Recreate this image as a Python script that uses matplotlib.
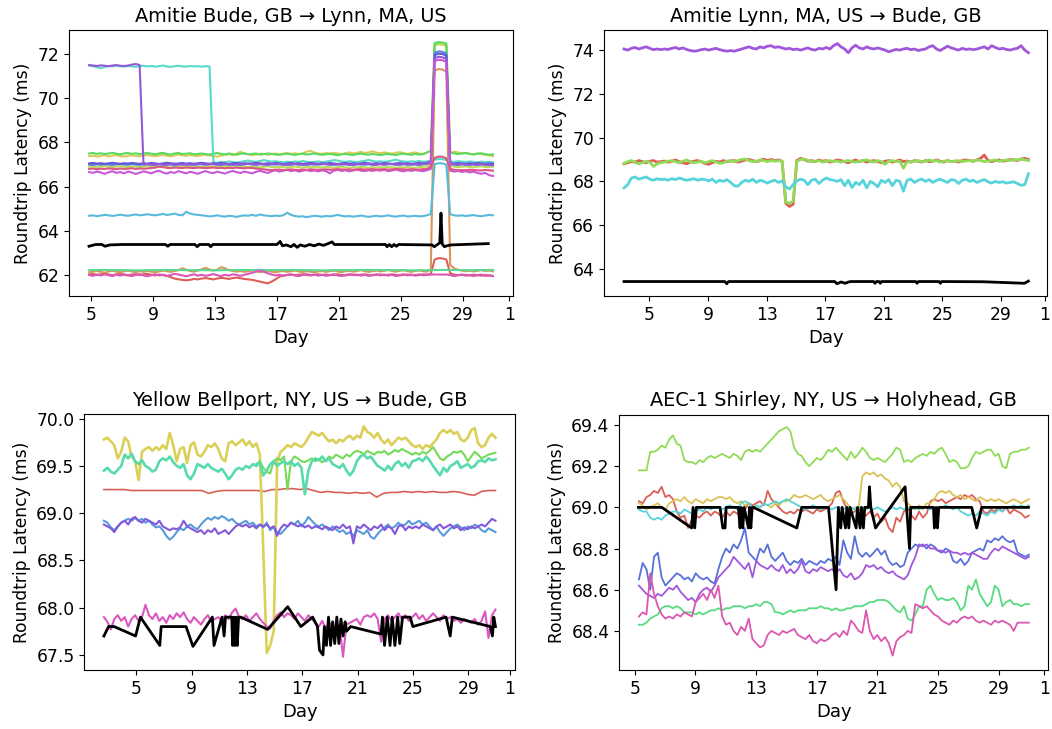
import numpy as np
import matplotlib
matplotlib.use("Agg")
import matplotlib.pyplot as plt
import seaborn as sns

plt.rcParams['font.family'] = ['DejaVu Sans']
plt.rcParams['font.size'] = 12

# ---------------- shared axis text ----------------
day_ticks = [5, 9, 13, 17, 21, 25, 29, 32]
day_labels = ["5", "9", "13", "17", "21", "25", "29", "1"]
x_label = "Day"
y_label = "Roundtrip Latency (ms)"

# ---------------- Panel 1: Amitie Bude -> Lynn ----------------
tl_title = "Amitie Bude, GB \u2192 Lynn, MA, US"
tl_start, tl_end = 4.88, 30.93
tl_series = {
    0: [62.02,62.05,62.00,62.03,62.06,62.02,61.99,62.03,62.05,62.01,61.98,62.02,62.04,62.00,62.03,
        62.05,62.01,61.98,62.02,62.00,61.96,61.90,61.84,61.80,61.78,61.76,61.78,61.82,61.80,61.84,
        61.86,61.83,61.80,61.84,61.87,61.85,61.82,61.86,61.88,61.85,61.82,61.80,61.78,61.74,61.70,
        61.66,61.62,61.70,61.80,61.92,61.98,62.00,62.02,61.99,62.01,62.03,62.00,61.98,62.01,62.03,
        62.00,62.02,61.99,62.01,62.03,62.00,61.98,62.01,62.02,61.99,62.01,62.03,62.00,61.98,62.01,
        62.02,61.99,62.01,62.03,62.00,61.98,62.01,62.02,61.99,62.00,62.02,61.99,62.00,62.05,
        62.70,62.76,62.75,62.70,
        62.08,62.02,61.99,62.01,62.00,61.98,62.01,61.99,61.97,62.00,61.98,61.96],
    1: [62.12,62.15,62.18,62.14,62.10,62.16,62.19,62.15,62.12,62.17,62.20,62.16,62.13,62.17,62.14,
        62.18,62.15,62.12,62.16,62.20,62.17,62.14,62.18,62.22,62.30,62.24,62.18,62.15,62.20,62.26,
        62.32,62.25,62.20,62.24,62.35,62.30,62.22,62.18,62.15,62.18,62.14,62.17,62.20,62.16,62.13,
        62.16,62.19,62.15,62.12,62.16,62.18,62.14,62.17,62.20,62.16,62.13,62.17,62.15,62.12,62.16,
        62.18,62.14,62.17,62.20,62.16,62.13,62.17,62.19,62.15,62.18,62.22,62.17,62.14,62.17,62.20,
        62.16,62.19,62.23,62.18,62.15,62.19,62.22,62.17,62.14,62.18,62.21,62.17,62.15,62.25,
        71.25,71.32,71.30,71.20,
        62.45,62.30,62.24,62.20,62.17,62.20,62.16,62.19,62.22,62.18,62.20,62.17],
    2: [67.38,67.40,67.36,67.39,67.42,67.37,67.40,67.43,67.38,67.36,67.40,67.42,67.39,67.37,67.41,
        67.43,67.40,67.38,67.41,67.44,67.40,67.37,67.41,67.45,67.42,67.39,67.43,67.40,67.38,67.42,
        67.45,67.41,67.38,67.36,67.40,67.44,67.47,67.42,67.50,67.58,67.48,67.47,67.43,67.45,67.49,
        67.48,67.44,67.47,67.50,67.46,67.49,67.52,67.48,67.51,67.47,67.50,67.58,67.62,67.54,67.50,
        67.48,67.52,67.49,67.53,67.50,67.47,67.51,67.55,67.50,67.53,67.57,67.52,67.55,67.60,67.54,
        67.51,67.55,67.52,67.49,67.53,67.56,67.51,67.48,67.52,67.55,67.50,67.47,67.53,67.62,
        72.38,72.44,72.42,72.36,
        67.52,67.58,67.55,67.50,67.53,67.49,67.46,67.50,67.47,67.44,67.42,67.38],
    3: [66.90,66.92,66.89,66.91,66.93,66.90,66.88,66.91,66.93,66.90,66.89,66.92,66.90,66.88,66.91,
        66.93,66.90,66.88,66.91,66.92,66.89,66.87,66.90,66.92,66.89,66.91,66.93,66.90,66.88,66.91,
        66.89,66.92,66.90,66.88,66.91,66.93,66.90,66.87,66.89,66.92,66.90,66.88,66.91,66.89,66.87,
        66.90,66.92,66.89,66.87,66.90,66.88,66.86,66.89,66.91,66.88,66.86,66.89,66.87,66.90,66.88,
        66.86,66.89,66.87,66.85,66.88,66.90,66.87,66.85,66.88,66.86,66.89,66.87,66.85,66.88,66.86,
        66.88,66.86,66.89,66.87,66.85,66.88,66.86,66.89,66.87,66.85,66.88,66.90,66.92,67.00,
        72.42,72.46,72.44,72.40,
        66.95,66.90,66.88,66.90,66.92,66.89,66.87,66.90,66.92,66.89,66.88,66.90],
    5: [67.50,67.52,67.48,67.51,67.47,67.50,67.53,67.49,67.46,67.50,67.52,67.48,67.51,67.47,67.50,
        67.52,67.49,67.46,67.50,67.53,67.48,67.45,67.50,67.52,67.47,67.49,67.51,67.46,67.48,67.50,
        67.47,67.45,67.49,67.52,67.48,67.46,67.50,67.47,67.44,67.49,67.51,67.46,67.48,67.50,67.45,
        67.47,67.50,67.48,67.45,67.44,67.47,67.49,67.46,67.43,67.47,67.49,67.45,67.47,67.50,67.46,
        67.44,67.46,67.49,67.45,67.42,67.46,67.48,67.45,67.43,67.47,67.49,67.46,67.44,67.48,67.45,
        67.43,67.46,67.48,67.45,67.43,67.47,67.49,67.46,67.44,67.48,67.45,67.47,67.55,67.62,
        72.50,72.54,72.52,72.48,
        67.55,67.50,67.47,67.50,67.52,67.48,67.45,67.49,67.51,67.47,67.44,67.46],
    6: [62.22,62.23,62.22,62.21,62.22,62.23,62.22,62.22,62.21,62.22,62.23,62.22,62.22,62.23,
        62.22,62.21,62.22,62.22,62.23,62.22,62.22,62.21,62.22,62.23,62.22,62.22,62.23],
    7: [71.48,71.45,71.40,71.36,71.42,71.46,71.44,71.47,71.45,71.43,71.46,71.44,71.42,71.45,71.47,
        71.44,71.46,71.43,71.45,71.48,71.44,71.42,71.45,71.47,71.44,71.43,71.46,71.44,71.45,71.43,
        71.45,71.44,67.10,67.08,67.12,67.10,67.14,67.11,67.09,67.12,67.15,67.18,67.14,67.12,67.16,
        67.20,67.16,67.13,67.15,67.12,67.10,67.13,67.11,67.14,67.12,67.16,67.13,67.10,67.12,67.14,
        67.11,67.13,67.16,67.20,67.18,67.14,67.12,67.15,67.13,67.11,67.14,67.17,67.21,67.16,67.13,
        67.15,67.12,67.14,67.18,67.22,67.17,67.14,67.12,67.15,67.13,67.16,67.12,67.14,67.18,
        67.22,67.25,67.24,67.20,
        67.14,67.12,67.15,67.13,67.11,67.14,67.12,67.10,67.13,67.11,67.12,67.10],
    8: [64.68,64.70,64.66,64.69,64.72,64.70,64.67,64.70,64.73,64.70,64.68,64.71,64.74,64.70,64.72,
        64.75,64.72,64.70,64.73,64.76,64.72,64.74,64.78,64.72,64.70,64.86,64.78,64.74,64.72,64.70,
        64.68,64.65,64.67,64.70,64.66,64.64,64.68,64.66,64.63,64.67,64.70,64.68,64.72,64.68,64.74,
        64.70,64.68,64.66,64.69,64.67,64.70,64.82,64.72,64.67,64.64,64.66,64.62,64.65,64.68,64.66,
        64.64,64.67,64.65,64.68,64.72,64.68,64.65,64.67,64.64,64.66,64.69,64.66,64.63,64.66,64.68,
        64.65,64.67,64.70,64.66,64.64,64.67,64.69,64.65,64.66,64.68,64.65,64.67,64.70,64.76,
        67.02,67.06,67.05,67.00,
        64.75,64.70,64.68,64.70,64.67,64.69,64.71,64.68,64.66,64.69,64.72,64.70],
    9: [67.00,66.98,67.01,66.99,67.02,67.00,66.98,67.01,67.03,67.00,66.99,67.02,67.00,66.98,67.01,
        67.02,67.00,66.98,67.01,66.99,67.02,67.00,66.97,67.00,67.02,66.99,67.01,66.98,67.00,67.02,
        66.99,67.01,67.03,67.00,66.98,67.01,66.99,67.02,67.00,66.98,67.01,67.03,67.00,66.99,67.01,
        67.00,66.98,67.01,66.99,67.02,67.00,66.97,67.00,67.02,66.99,67.01,66.98,67.00,67.02,66.99,
        67.01,67.03,67.00,66.98,67.01,66.99,67.02,67.00,66.97,67.00,67.02,66.99,67.01,66.98,67.00,
        67.02,66.99,67.01,67.03,67.00,66.98,67.01,66.99,67.02,67.00,66.98,67.01,67.03,67.05,
        72.05,72.12,72.10,72.02,
        67.02,67.00,66.98,67.01,66.99,67.02,67.00,66.98,67.01,66.99,67.00,66.98],
    10: [67.05,67.07,67.04,67.06,67.03,67.05,67.08,67.05,67.03,67.06,67.04,67.07,67.05,67.03,67.06,
         67.04,67.07,67.05,67.02,67.05,67.08,67.06,67.03,67.05,67.07,67.04,67.06,67.03,67.05,67.08,
         67.05,67.03,67.06,67.04,67.07,67.05,67.02,67.05,67.07,67.04,67.06,67.03,67.05,67.08,67.05,
         67.03,67.06,67.04,67.07,67.05,67.02,67.05,67.07,67.04,67.06,67.03,67.05,67.08,67.05,67.03,
         67.06,67.04,67.07,67.05,67.02,67.05,67.07,67.04,67.06,67.03,67.05,67.08,67.05,67.03,67.06,
         67.04,67.07,67.05,67.02,67.05,67.07,67.04,67.06,67.03,67.05,67.08,67.05,67.08,67.10,
         71.95,72.02,72.00,71.92,
         67.06,67.04,67.07,67.05,67.03,67.06,67.04,67.07,67.05,67.03,67.05,67.04],
    11: [71.50,71.48,71.46,71.49,71.47,71.45,71.48,71.50,71.47,71.46,71.48,71.52,71.55,71.50,67.00,
         67.02,66.99,67.01,67.03,67.00,66.98,67.02,67.04,67.01,66.99,67.02,67.00,67.03,67.05,67.02,
         67.00,67.03,67.01,66.99,67.02,67.04,67.01,66.98,67.00,67.03,67.01,67.05,67.02,67.00,67.03,
         67.01,66.99,67.02,67.04,67.01,66.99,67.02,67.00,67.03,67.01,66.98,67.01,67.03,67.00,67.02,
         67.04,67.01,66.99,67.02,67.00,67.03,67.01,66.98,67.01,67.03,67.00,67.02,67.04,67.01,66.99,
         67.02,67.00,67.03,67.01,66.99,67.02,67.04,67.01,66.99,67.02,67.00,67.03,67.05,67.10,
         71.80,71.88,71.85,71.78,
         67.04,67.01,66.99,67.02,67.00,66.98,67.01,66.99,67.02,67.00,66.98,66.97],
    12: [66.66,66.62,66.68,66.64,66.58,66.65,66.70,66.62,66.66,66.60,66.68,66.64,66.57,66.63,66.69,
         66.65,66.60,66.67,66.72,66.64,66.59,66.66,66.62,66.70,66.65,66.60,66.67,66.63,66.58,66.65,
         66.70,66.64,66.61,66.68,66.63,66.59,66.66,66.71,66.65,66.62,66.68,66.64,66.60,66.67,66.72,
         66.66,66.62,66.69,66.74,66.68,66.72,66.76,66.70,66.74,66.68,66.72,66.75,66.70,66.73,66.69,
         66.74,66.70,66.60,66.72,66.76,66.71,66.74,66.69,66.73,66.77,66.72,66.70,66.74,66.71,66.75,
         66.72,66.76,66.70,66.73,66.77,66.72,66.69,66.74,66.71,66.75,66.72,66.70,66.74,66.80,
         71.68,71.74,71.72,71.65,
         66.72,66.68,66.71,66.66,66.70,66.64,66.68,66.62,66.58,66.62,66.52,66.48],
    13: [62.00,61.96,62.02,61.98,62.03,61.99,61.95,62.01,61.97,62.03,61.99,61.95,62.00,62.04,61.98,
         61.94,61.99,62.03,61.98,62.01,61.96,62.00,62.05,62.02,61.98,61.94,61.99,62.03,61.97,62.01,
         61.96,62.00,62.04,61.99,61.95,62.01,61.97,62.03,62.00,61.96,62.01,62.05,62.10,62.16,62.20,
         62.15,62.08,62.02,61.98,62.01,61.96,62.00,62.03,61.98,61.95,62.00,62.04,61.99,62.02,61.97,
         62.01,61.96,62.00,62.03,61.98,61.95,62.00,62.04,61.99,62.02,61.97,62.01,61.96,62.00,62.03,
         61.98,62.02,61.97,62.01,61.95,62.00,62.03,61.98,62.02,61.97,62.00,62.03,62.02,62.02,
         62.02,62.02,62.02,62.02,
         62.00,61.95,61.99,62.02,61.97,62.00,61.95,61.99,62.02,61.96,61.98,61.95],
    14: [66.80,66.82,66.79,66.81,66.80,66.82,66.81,66.79,66.82,66.80,66.81,66.83,66.80,66.82,66.81,
         66.82,66.84,66.86,66.90,66.88,66.85,66.84,66.86,66.85,66.84,66.86,66.85,66.84,66.86,66.85,
         66.84,66.85,66.86,66.84,66.85,66.83,66.85,66.84,66.86,66.84,66.83,66.85,66.84,66.82,66.80,
         66.78,66.76,66.75,66.76,66.77,66.75,66.76,66.78,66.76,66.75,66.77,66.76,66.78,66.77,66.76,
         66.77,66.78,66.76,66.77,66.79,66.78,66.77,66.78,66.76,66.78,66.79,66.77,66.78,66.79,66.77,
         66.78,66.79,66.77,66.78,66.80,66.79,66.78,66.77,66.79,66.78,66.77,66.79,66.80,66.90,
         67.30,67.36,67.35,67.28,
         66.80,66.76,66.74,66.75,66.74,66.76,66.75,66.74,66.73,66.75,66.74,66.72],
}
tl_black_days = [4.87, 5.3, 5.7, 5.9, 6.2, 7.0, 9.8, 9.95, 10.1, 11.7, 11.85, 12.0, 12.6, 12.72,
                 12.85, 17.0, 17.2, 17.35, 17.6, 17.9, 18.1, 18.3, 18.5, 18.8, 19.1, 19.4, 19.7,
                 20.0, 20.4, 20.55, 20.7, 24.0, 24.1, 24.25, 24.4, 24.55, 24.7, 24.85, 27.0,
                 27.15, 27.35, 27.5, 27.58, 27.66, 27.8, 27.95, 28.2, 30.63]
tl_black_vals = [63.30, 63.38, 63.38, 63.30, 63.36, 63.38, 63.38, 63.30, 63.38, 63.38, 63.28,
                 63.38, 63.38, 63.28, 63.38, 63.38, 63.52, 63.32, 63.36, 63.28, 63.38, 63.25,
                 63.36, 63.30, 63.38, 63.32, 63.40, 63.34, 63.45, 63.50, 63.38, 63.38, 63.28,
                 63.38, 63.28, 63.38, 63.30, 63.38, 63.36, 63.28, 63.38, 63.45, 64.80, 63.40,
                 63.28, 63.32, 63.36, 63.42]

# ---------------- Panel 2: Amitie Lynn -> Bude ----------------
tr_title = "Amitie Lynn, MA, US \u2192 Bude, GB"
tr_start, tr_end = 3.27, 30.87
tr_red = [68.80,68.85,68.90,68.88,68.95,68.90,68.85,68.92,68.95,68.88,
          68.90,68.93,68.87,68.92,68.98,68.90,68.85,68.80,68.88,68.92,
          68.95,68.90,68.82,68.78,68.85,68.92,68.88,68.95,68.90,68.93,
          68.95,68.88,68.92,68.98,69.00,68.95,68.90,68.95,69.02,68.95,
          69.00,68.95,68.98,68.92,67.00,66.85,66.95,68.95,69.05,69.00,
          68.92,68.95,68.90,68.98,68.92,68.95,68.88,68.92,68.98,68.95,
          68.90,68.85,68.92,68.98,68.90,68.95,68.88,68.92,68.95,68.90,
          68.85,68.92,68.95,68.88,68.92,68.98,68.90,68.93,68.88,68.95,
          68.92,68.88,68.95,68.90,68.92,68.98,68.92,68.88,68.95,68.90,
          68.93,68.88,68.95,68.98,68.95,68.92,68.98,69.05,69.20,68.95,
          68.90,68.95,68.98,68.92,68.95,69.00,68.98,68.95,69.02,69.05,69.00]
tr_lime = [68.82,68.90,68.95,68.88,68.80,68.85,68.92,68.88,68.68,68.80,
           68.85,68.88,68.92,68.95,68.90,68.85,68.92,68.98,68.90,68.85,
           68.88,68.92,68.85,68.90,68.95,68.88,68.82,68.85,68.92,68.95,
           68.90,68.95,69.00,69.02,68.95,68.90,68.92,68.98,68.95,68.90,
           68.95,68.92,68.95,68.90,67.05,67.00,67.10,68.90,69.00,69.02,
           68.95,68.90,68.92,68.95,68.88,68.92,68.95,68.90,68.93,68.88,
           68.92,68.95,68.90,68.88,68.92,68.95,68.98,68.92,68.88,68.95,
           68.90,68.78,68.92,68.95,68.90,68.92,68.60,68.90,68.88,68.92,
           68.95,68.90,68.92,68.98,68.92,68.95,68.88,68.92,68.95,68.90,
           68.92,68.95,68.90,68.93,68.95,68.92,68.98,68.95,68.90,68.93,
           68.95,68.98,68.92,68.95,68.98,68.95,69.00,68.98,69.02,68.98,68.95]
tr_cyan = [67.70,67.85,68.15,68.20,68.10,68.15,68.20,68.10,68.05,68.12,
           68.08,68.10,68.05,68.12,68.08,68.15,68.10,68.05,68.08,68.12,
           68.05,68.10,68.08,68.02,68.10,67.95,68.05,68.00,68.08,67.95,
           67.80,67.78,67.95,68.05,68.00,68.10,67.95,68.05,68.00,67.92,
           68.00,68.05,67.95,68.02,67.75,67.65,67.85,68.02,68.10,68.05,
           67.85,68.05,68.10,67.90,68.05,68.15,68.08,68.05,68.00,68.08,
           67.80,68.05,67.72,67.95,67.85,68.05,67.70,68.00,67.90,67.75,
           68.05,67.95,68.08,67.80,68.05,68.00,67.55,68.05,68.10,67.95,
           68.05,68.10,68.00,68.08,67.95,68.05,68.10,68.02,67.95,68.08,
           68.05,67.90,68.05,68.10,68.00,68.05,67.95,68.02,68.08,67.98,
           67.92,68.00,67.95,67.98,67.92,67.95,67.98,67.90,67.82,67.85,68.35]
tr_purple = [74.05,74.00,74.08,74.12,74.05,74.10,74.15,74.08,74.02,74.05,
             74.02,74.05,74.03,74.08,74.12,74.05,74.10,74.03,73.98,73.95,
             73.97,74.02,74.05,74.00,74.04,74.08,74.02,73.98,73.95,73.98,
             73.95,74.00,74.05,74.10,74.15,74.08,74.05,74.15,74.10,74.18,
             74.20,74.12,74.15,74.10,74.05,74.08,74.02,74.05,74.00,74.05,
             74.10,74.03,74.00,74.08,74.05,74.12,74.05,74.20,74.30,74.15,
             74.05,73.88,74.10,74.22,74.10,74.05,74.15,74.08,74.05,74.10,
             74.05,74.00,73.92,73.98,74.03,74.00,74.05,74.08,74.02,74.05,
             73.98,74.02,74.05,74.15,74.20,74.05,73.98,74.08,74.18,74.10,
             74.05,74.00,74.08,74.03,74.05,74.02,74.05,74.10,74.15,74.05,
             74.20,74.12,74.05,74.08,74.03,74.00,74.05,74.08,74.20,74.00,73.88]
tr_black_days = [3.27, 10.15, 10.28, 10.4, 17.65, 17.8, 18.1, 18.35, 18.6, 18.75, 20.3, 20.4,
                 20.5, 20.68, 20.76, 20.85, 23.18, 23.27, 23.36, 24.77, 24.86, 24.95, 27.8,
                 30.6, 30.87]
tr_black_vals = [63.42, 63.42, 63.32, 63.42, 63.42, 63.32, 63.40, 63.34, 63.40, 63.42, 63.42,
                 63.34, 63.42, 63.42, 63.34, 63.42, 63.42, 63.34, 63.42, 63.42, 63.34, 63.42,
                 63.41, 63.34, 63.44]

# ---------------- Panel 3: Yellow Bellport -> Bude ----------------
bl_title = "Yellow Bellport, NY, US \u2192 Bude, GB"
bl_start, bl_end = 2.66, 30.97
bl_lime_start = 13.68
bl_red = [69.25,69.25,69.25,69.25,69.24,69.24,69.24,69.24,69.24,69.24,
          69.24,69.24,69.24,69.24,69.24,69.21,69.23,69.24,69.24,69.24,
          69.24,69.24,69.24,69.23,69.25,69.25,69.26,69.26,69.25,69.26,
          69.24,69.22,69.23,69.22,69.22,69.21,69.22,69.21,69.22,69.17,
          69.21,69.22,69.22,69.23,69.22,69.23,69.22,69.23,69.22,69.22,
          69.23,69.22,69.20,69.19,69.23,69.24,69.24]
bl_yellow = [69.78,69.80,69.76,69.72,69.58,69.65,69.80,69.76,69.60,69.55,
             69.35,69.65,69.68,69.70,69.66,69.70,69.67,69.72,69.68,69.85,
             69.72,69.55,69.68,69.70,69.53,69.72,69.75,69.62,69.60,69.65,
             69.72,69.70,69.74,69.68,69.58,69.55,69.74,69.76,69.72,69.75,
             69.78,69.72,69.76,69.70,69.74,69.62,68.60,67.52,67.60,67.75,
             69.55,69.65,69.68,69.72,69.70,69.74,69.72,69.70,69.74,69.80,
             69.86,69.84,69.82,69.85,69.80,69.76,69.78,69.74,69.78,69.76,
             69.80,69.82,69.78,69.82,69.80,69.92,69.86,69.84,69.80,69.85,
             69.78,69.74,69.78,69.72,69.76,69.80,69.78,69.80,69.76,69.72,
             69.70,69.72,69.68,69.72,69.70,69.74,69.78,69.85,69.88,69.85,
             69.88,69.84,69.86,69.78,69.76,69.80,69.88,69.90,69.74,69.70,
             69.72,69.80,69.84,69.80]
bl_lime = [69.52,69.55,69.48,69.44,69.42,69.55,
           69.58,69.56,69.60,69.25,69.55,69.60,69.58,69.55,69.54,69.56,
           69.58,69.55,69.57,69.54,69.56,69.60,69.58,69.62,69.60,69.58,
           69.62,69.60,69.64,69.66,69.65,69.62,69.66,69.64,69.62,69.65,
           69.64,69.66,69.62,69.64,69.67,69.65,69.68,69.66,69.64,69.62,
           69.64,69.62,69.65,69.63,69.66,69.70,69.64,69.58,69.56,69.60,
           69.62,69.65,69.64,69.66,69.62,69.55,69.60,69.65,69.62,69.58,
           69.60,69.62,69.63,69.64]
bl_teal = [69.45,69.48,69.44,69.42,69.46,69.50,69.62,69.58,69.63,69.55,
           69.52,69.56,69.50,69.48,69.44,69.46,69.55,69.58,69.56,69.60,
           69.54,69.50,69.48,69.52,69.40,69.36,69.42,69.52,69.50,69.48,
           69.52,69.48,69.46,69.44,69.47,69.42,69.36,69.40,69.46,69.48,
           69.46,69.50,69.48,69.52,69.50,69.54,69.40,69.45,69.52,69.55,
           69.50,69.53,69.55,69.52,69.55,69.50,69.53,69.48,69.20,69.45,
           69.55,69.58,69.56,69.60,69.55,69.58,69.52,69.50,69.48,69.52,
           69.45,69.40,69.45,69.55,69.60,69.62,69.58,69.60,69.55,69.50,
           69.48,69.45,69.50,69.46,69.52,69.55,69.50,69.53,69.48,69.55,
           69.56,69.58,69.55,69.60,69.56,69.50,69.45,69.40,69.48,69.44,
           69.50,69.52,69.55,69.48,69.50,69.52,69.48,69.50,69.55,69.56,
           69.54,69.58,69.56,69.57]
bl_blue = [68.92,68.90,68.85,68.82,68.86,68.90,68.92,68.94,68.92,68.95,
           68.92,68.94,68.90,68.92,68.88,68.85,68.86,68.82,68.76,68.72,
           68.75,68.80,68.84,68.82,68.86,68.88,68.85,68.83,68.88,68.92,
           68.95,68.93,68.96,68.94,68.97,68.95,68.92,68.94,68.90,68.88,
           68.90,68.92,68.88,68.90,68.86,68.88,68.85,68.90,68.82,68.86,
           68.80,68.78,68.82,68.86,68.90,68.88,68.92,68.86,68.90,68.96,
           68.92,68.88,68.86,68.88,68.85,68.82,68.86,68.83,68.80,68.82,
           68.78,68.80,68.76,68.82,68.80,68.78,68.82,68.75,68.73,68.78,
           68.82,68.85,68.88,68.84,68.86,68.90,68.86,68.88,68.92,68.88,
           68.90,68.92,68.88,68.90,68.86,68.82,68.86,68.80,68.76,68.80,
           68.84,68.86,68.88,68.85,68.82,68.86,68.84,68.88,68.86,68.82,
           68.80,68.84,68.82,68.80]
bl_purple = [68.88,68.86,68.84,68.80,68.86,68.90,68.92,68.88,68.94,68.96,
             68.92,68.90,68.94,68.92,68.90,68.88,68.92,68.86,68.84,68.82,
             68.84,68.83,68.85,68.92,68.86,68.84,68.82,68.80,68.82,68.78,
             68.82,68.80,68.84,68.78,68.80,68.82,68.78,68.82,68.86,68.88,
             68.86,68.88,68.85,68.87,68.84,68.88,68.86,68.88,68.84,68.86,
             68.76,68.84,68.88,68.86,68.90,68.88,68.86,68.88,68.85,68.87,
             68.84,68.86,68.85,68.83,68.86,68.84,68.82,68.86,68.84,68.88,
             68.84,68.86,68.68,68.86,68.84,68.88,68.85,68.82,68.86,68.84,
             68.88,68.82,68.86,68.84,68.78,68.86,68.88,68.82,68.86,68.84,
             68.86,68.84,68.88,68.86,68.84,68.82,68.86,68.88,68.84,68.86,
             68.88,68.84,68.86,68.82,68.85,68.83,68.86,68.84,68.86,68.88,
             68.86,68.90,68.94,68.92]
bl_pink = [67.90,67.85,67.77,67.88,67.92,67.86,67.90,67.80,67.88,67.92,
           67.86,67.90,68.03,67.92,67.88,67.94,67.86,67.90,67.84,67.92,
           67.88,67.94,67.90,67.95,67.88,67.84,67.90,67.86,67.82,67.88,
           67.92,67.85,67.88,67.90,67.86,67.92,67.88,67.95,67.99,67.90,
           67.88,67.92,67.86,67.90,67.94,67.88,67.84,67.80,67.78,67.86,
           67.92,67.95,67.90,67.94,67.92,67.88,67.94,67.90,67.86,67.92,
           67.88,67.84,67.80,67.86,67.78,67.84,67.80,67.75,67.82,67.48,
           67.82,67.84,67.86,67.88,67.82,67.90,67.92,67.90,67.94,67.88,
           67.64,67.88,67.92,67.86,67.90,67.94,67.88,67.92,67.86,67.90,
           67.94,67.88,67.92,67.86,67.90,67.94,67.90,67.86,67.92,67.88,
           67.90,67.86,67.88,67.84,67.88,67.86,67.84,67.88,67.82,67.86,
           67.96,67.68,67.92,67.98]
bl_black_days = [2.66, 3.0, 3.4, 4.95, 5.3, 6.7, 6.8, 8.6, 9.1, 10.5, 10.62, 11.2, 11.35, 11.45,
                 11.9, 11.97, 12.05, 12.13, 12.22, 12.3, 12.4, 12.55, 14.5, 15.95, 16.9, 17.75,
                 18.1, 18.25, 18.5, 18.6, 18.75, 18.9, 19.05, 19.2, 19.35, 19.5, 19.65, 19.8,
                 19.95, 20.1, 20.2, 20.5, 22.7, 22.8, 22.95, 23.15, 23.35, 23.5, 23.7, 23.9,
                 24.05, 24.25, 24.8, 25.0, 27.4, 27.7, 27.85, 30.6, 30.75, 30.85, 30.97]
bl_black_vals = [67.70, 67.80, 67.80, 67.70, 67.90, 67.60, 67.80, 67.80, 67.59, 67.90, 67.60,
                 67.90, 67.70, 67.90, 67.90, 67.60, 67.90, 67.60, 67.90, 67.60, 67.90, 67.90,
                 67.77, 68.01, 67.80, 67.90, 67.80, 67.55, 67.50, 67.80, 67.60, 67.90, 67.60,
                 67.85, 67.62, 67.90, 67.62, 67.88, 67.70, 67.85, 67.75, 67.80, 67.72, 67.90,
                 67.60, 67.90, 67.60, 67.90, 67.60, 67.90, 67.62, 67.90, 67.90, 67.80, 67.90,
                 67.70, 67.90, 67.80, 67.70, 67.90, 67.80]

# ---------------- Panel 4: AEC-1 Shirley -> Holyhead ----------------
br_title = "AEC-1 Shirley, NY, US \u2192 Holyhead, GB"
br_start, br_end = 5.27, 30.98
br_red = [69.03,69.02,69.05,69.06,69.08,69.07,69.10,69.05,69.06,69.04,
          68.98,68.95,68.96,68.90,68.94,68.96,68.95,68.97,68.98,68.96,
          68.98,68.97,68.95,68.98,68.96,68.98,68.97,68.95,68.99,69.02,
          69.01,69.02,69.03,69.01,69.08,69.04,69.02,69.00,68.98,68.97,
          68.98,68.97,68.99,68.98,68.99,68.98,68.97,68.99,68.98,68.99,
          69.00,69.02,69.07,69.08,69.03,68.99,68.97,68.98,69.00,68.97,
          68.96,68.98,68.95,68.97,68.93,68.95,68.90,68.88,68.95,68.93,
          68.98,69.00,68.96,68.94,68.98,68.95,68.97,69.03,69.04,69.03,
          69.04,69.02,69.03,69.04,69.05,69.04,69.06,69.05,69.06,69.04,
          69.03,68.98,68.97,68.99,68.98,69.00,68.98,69.00,68.97,68.99,
          68.98,68.97,68.95,68.96]
br_yellow = [69.02,69.01,68.99,69.00,69.01,69.02,69.00,68.99,69.02,69.03,
             69.04,69.03,69.05,69.03,69.02,69.04,69.03,69.02,69.04,69.03,
             69.04,69.05,69.05,69.04,69.05,69.03,69.02,69.03,69.01,69.02,
             69.00,69.01,69.00,69.02,69.01,69.00,69.02,69.01,69.03,69.03,
             69.04,69.06,69.05,69.05,69.06,69.05,69.04,69.05,69.06,69.04,
             69.03,69.04,69.05,69.06,69.04,69.02,68.99,69.00,68.99,69.15,
             69.17,69.16,69.17,69.15,69.16,69.14,69.13,69.10,69.12,69.10,
             69.03,69.02,69.00,68.99,69.01,68.99,69.02,69.02,69.04,69.07,
             69.08,69.07,69.08,69.06,69.05,69.06,69.04,69.05,69.04,69.03,
             69.05,69.04,69.03,69.04,69.03,69.04,69.03,69.02,69.03,69.04,
             69.03,69.02,69.03,69.04]
br_lime = [69.18,69.18,69.18,69.27,69.27,69.28,69.30,69.29,69.33,69.35,
           69.31,69.30,69.23,69.22,69.22,69.21,69.23,69.22,69.24,69.25,
           69.24,69.25,69.26,69.25,69.24,69.26,69.25,69.23,69.27,69.28,
           69.27,69.28,69.27,69.29,69.31,69.33,69.35,69.37,69.38,69.39,
           69.37,69.29,69.26,69.25,69.22,69.20,69.22,69.24,69.23,69.25,
           69.28,69.27,69.29,69.27,69.25,69.23,69.27,69.24,69.26,69.29,
           69.27,69.24,69.23,69.24,69.23,69.22,69.24,69.26,69.29,69.28,
           69.22,69.23,69.22,69.24,69.25,69.26,69.25,69.27,69.26,69.28,
           69.29,69.26,69.22,69.23,69.22,69.19,69.19,69.20,69.24,69.27,
           69.26,69.27,69.28,69.28,69.25,69.26,69.20,69.19,69.26,69.27,
           69.27,69.28,69.28,69.29]
br_green = [68.43,68.43,68.44,68.46,68.47,68.48,68.51,68.52,68.52,68.51,
            68.52,68.51,68.49,68.49,68.49,68.48,68.49,68.48,68.49,68.50,
            68.50,68.51,68.50,68.51,68.51,68.52,68.52,68.52,68.51,68.52,
            68.52,68.53,68.52,68.54,68.54,68.53,68.49,68.49,68.48,68.49,
            68.50,68.49,68.50,68.50,68.50,68.51,68.51,68.51,68.52,68.51,
            68.51,68.50,68.51,68.50,68.50,68.51,68.51,68.52,68.52,68.52,
            68.53,68.54,68.54,68.55,68.55,68.55,68.54,68.52,68.50,68.49,
            68.52,68.46,68.45,68.48,68.52,68.52,68.60,68.62,68.58,68.55,
            68.56,68.55,68.55,68.56,68.54,68.50,68.52,68.62,68.60,68.65,
            68.58,68.55,68.52,68.54,68.62,68.60,68.52,68.54,68.55,68.53,
            68.53,68.52,68.53,68.53]
br_cyan = [68.99,68.98,68.98,68.95,68.94,68.95,68.94,68.96,68.97,68.98,
           68.98,68.97,68.99,68.98,68.97,68.98,68.99,68.98,69.00,68.99,
           69.00,69.00,68.99,69.00,69.01,69.00,68.99,69.02,69.03,69.02,
           69.00,69.01,69.00,69.02,69.01,69.02,69.03,69.02,69.03,69.04,
           69.03,69.02,69.01,69.00,68.99,69.00,69.01,69.00,68.99,69.00,
           69.00,68.99,69.00,69.00,68.99,69.00,69.00,68.99,69.00,69.00,
           68.99,69.00,68.99,69.00,68.99,68.98,68.99,69.00,68.99,69.00,
           68.99,69.00,68.99,69.00,68.99,69.00,69.00,68.99,69.00,69.00,
           69.00,69.01,69.00,68.99,69.00,68.98,68.97,68.96,68.97,68.96,
           68.98,68.97,68.96,68.98,68.97,68.99,68.98,69.00,69.00,69.01,
           69.00,69.01,69.00,69.01]
br_blue = [68.65,68.73,68.70,68.60,68.76,68.78,68.66,68.62,68.64,68.66,
           68.68,68.67,68.65,68.66,68.64,68.68,68.66,68.65,68.66,68.64,
           68.63,68.70,68.76,68.80,68.78,68.82,68.80,68.84,68.90,68.78,
           68.76,68.74,68.80,68.78,68.82,68.76,68.74,68.76,68.78,68.74,
           68.72,68.74,68.73,68.75,68.72,68.74,68.73,68.72,68.74,68.73,
           68.75,68.74,68.76,68.72,68.84,68.78,68.75,68.86,68.78,68.76,
           68.78,68.76,68.78,68.80,68.77,68.79,68.74,68.72,68.73,68.71,
           68.72,68.78,68.80,68.82,68.81,68.82,68.80,68.82,68.81,68.79,
           68.78,68.80,68.79,68.74,68.73,68.75,68.72,68.74,68.78,68.79,
           68.80,68.79,68.84,68.83,68.85,68.84,68.86,68.84,68.83,68.84,
           68.78,68.77,68.76,68.77]
br_purple = [68.62,68.60,68.58,68.57,68.56,68.58,68.57,68.59,68.61,68.60,
             68.62,68.59,68.57,68.55,68.56,68.54,68.58,68.60,68.61,68.59,
             68.62,68.66,68.68,68.70,68.72,68.76,68.74,68.72,68.70,68.73,
             68.66,68.74,68.72,68.71,68.70,68.72,68.70,68.69,68.72,68.68,
             68.70,68.68,68.70,68.74,68.69,68.68,68.70,68.69,68.71,68.70,
             68.69,68.70,68.68,68.70,68.67,68.66,68.68,68.65,68.66,68.68,
             68.72,68.71,68.72,68.70,68.71,68.69,68.68,68.69,68.67,68.66,
             68.65,68.67,68.72,68.76,68.82,68.81,68.82,68.80,68.80,68.79,
             68.79,68.78,68.79,68.78,68.78,68.77,68.78,68.77,68.78,68.77,
             68.76,68.75,68.75,68.78,68.80,68.79,68.81,68.80,68.79,68.78,
             68.77,68.76,68.75,68.76]
br_pink = [68.47,68.49,68.48,68.68,68.58,68.52,68.48,68.46,68.47,68.46,
           68.48,68.47,68.49,68.48,68.47,68.54,68.56,68.58,68.55,68.60,
           68.56,68.62,68.47,68.43,68.44,68.40,68.38,68.42,68.40,68.46,
           68.36,68.34,68.32,68.33,68.38,68.40,68.39,68.38,68.40,68.39,
           68.40,68.41,68.38,68.37,68.36,68.38,68.35,68.34,68.36,68.35,
           68.36,68.38,68.39,68.37,68.40,68.38,68.45,68.43,68.40,68.39,
           68.50,68.40,68.36,68.38,68.35,68.37,68.34,68.28,68.35,68.37,
           68.38,68.40,68.39,68.53,68.52,68.51,68.52,68.50,68.48,68.47,
           68.45,68.44,68.43,68.45,68.44,68.46,68.47,68.46,68.47,68.45,
           68.44,68.45,68.44,68.43,68.45,68.44,68.45,68.44,68.43,68.40,
           68.44,68.44,68.44,68.44]
br_black_days = [5.24, 6.78, 8.75, 8.84, 8.95, 9.06, 9.13, 10.62, 10.80, 10.95, 11.02, 11.83,
                 11.94, 12.01, 12.12, 12.21, 12.49, 12.56, 12.65, 12.74, 12.82, 15.68, 16.01,
                 17.77, 18.27, 18.42, 18.58, 18.67, 18.89, 18.98, 19.11, 19.19, 19.59, 19.68,
                 19.85, 19.94, 20.07, 20.16, 20.40, 20.47, 20.56, 20.87, 22.82, 23.11, 23.19,
                 24.69, 24.75, 24.86, 24.95, 25.04, 27.21, 27.54, 27.87, 30.95]
br_black_vals = [69.0, 69.0, 68.9, 69.0, 68.9, 69.0, 69.0, 69.0, 68.9, 68.9, 69.0, 69.0,
                 68.9, 69.0, 68.9, 69.0, 68.9, 69.0, 68.9, 69.0, 69.0, 68.9, 69.0,
                 69.0, 68.6, 69.0, 68.9, 69.0, 68.9, 69.0, 68.9, 69.0, 68.9, 69.0,
                 68.9, 69.0, 68.9, 69.0, 69.0, 69.1, 69.0, 68.9, 69.1, 68.8, 69.0,
                 69.0, 68.9, 69.0, 68.9, 69.0, 69.0, 68.9, 69.0, 69.0]

# ---------------- drawing ----------------
fig = plt.figure(figsize=(10.52, 7.29), dpi=100)
ax_tl = fig.add_axes([0.0656, 0.5940, 0.4221, 0.3649])
ax_tr = fig.add_axes([0.5741, 0.5940, 0.4216, 0.3649])
ax_bl = fig.add_axes([0.0801, 0.0809, 0.4094, 0.3512])
ax_br = fig.add_axes([0.5887, 0.0809, 0.4075, 0.3502])

LW = 1.5
BLW = 2.0


def series_line(ax, t0, t1, vals, color, lw=LW):
    t = np.linspace(t0, t1, len(vals))
    ax.plot(t, vals, color=color, lw=lw)


# panel 1
pal15 = sns.color_palette("hls", 15)
for idx in sorted(tl_series):
    series_line(ax_tl, tl_start, tl_end, tl_series[idx], pal15[idx])
ax_tl.plot(tl_black_days, tl_black_vals, color="black", lw=BLW)

# panel 2
pal4 = sns.color_palette("hls", 4)
for vals, col in zip([tr_red, tr_lime, tr_cyan, tr_purple], pal4):
    series_line(ax_tr, tr_start, tr_end, vals, col, lw=2.0)
ax_tr.plot(tr_black_days, tr_black_vals, color="black", lw=BLW)

# panel 3
pal7 = sns.color_palette("hls", 7)
series_line(ax_bl, bl_start, bl_end, bl_red, pal7[0], lw=1.2)
series_line(ax_bl, bl_start, bl_end, bl_yellow, pal7[1], lw=1.9)
series_line(ax_bl, bl_lime_start, bl_end, bl_lime, pal7[2])
series_line(ax_bl, bl_start, bl_end, bl_teal, pal7[3], lw=1.9)
series_line(ax_bl, bl_start, bl_end, bl_blue, pal7[4])
series_line(ax_bl, bl_start, bl_end, bl_purple, pal7[5])
series_line(ax_bl, bl_start, bl_end, bl_pink, pal7[6])
ax_bl.plot(bl_black_days, bl_black_vals, color="black", lw=BLW)

# panel 4
pal8 = sns.color_palette("hls", 8)
for vals, col in zip([br_red, br_yellow, br_lime, br_green, br_cyan, br_blue, br_purple, br_pink], pal8):
    series_line(ax_br, br_start, br_end, vals, col, lw=1.3)
ax_br.plot(br_black_days, br_black_vals, color="black", lw=BLW)

limits = {
    ax_tl: ((3.58, 32.23), (61.05, 73.09), tl_title),
    ax_tr: ((1.90, 32.17), (62.76, 74.92), tr_title),
    ax_bl: ((1.24, 32.38), (67.34, 70.05), bl_title),
    ax_br: ((3.98, 32.24), (68.21, 69.45), br_title),
}
for ax, (xl, yl, title) in limits.items():
    ax.set_xlim(*xl)
    ax.set_ylim(*yl)
    ax.set_xticks(day_ticks)
    ax.set_xticklabels(day_labels)
    ax.set_xlabel(x_label, fontsize=13)
    ax.set_ylabel(y_label, fontsize=12.3)
    ax.set_title(title, fontsize=13.9)
    ax.tick_params(labelsize=12.3)

ax_bl.yaxis.set_major_formatter(matplotlib.ticker.FormatStrFormatter('%.1f'))
ax_br.yaxis.set_major_formatter(matplotlib.ticker.FormatStrFormatter('%.1f'))

fig.savefig("out.png", dpi=100)
